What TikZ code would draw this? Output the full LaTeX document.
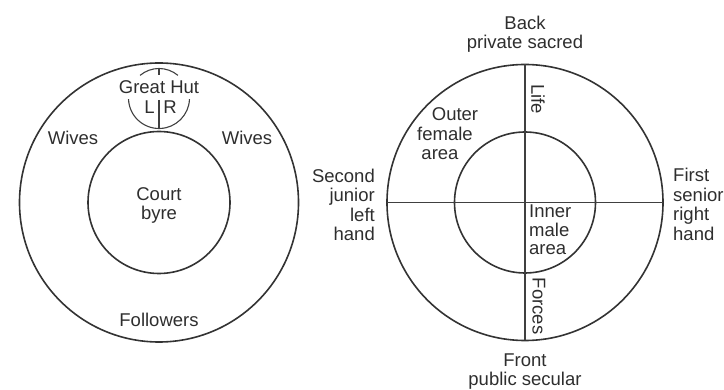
\documentclass[tikz,border=0pt]{standalone}
\usepackage{fontspec}
\setmainfont{Liberation Sans}
\begin{document}
\begin{tikzpicture}[x=1pt,y=-1pt,
  ring/.style={draw=black!80,line width=1.6pt},
  thin/.style={draw=black!75,line width=1.1pt},
  lab/.style={inner sep=0pt,text=black!82,font=\fontsize{18.5}{20}\selectfont},
  labc/.style={lab,anchor=base},
  labr/.style={lab,anchor=base east},
  labl/.style={lab,anchor=base west}]
\useasboundingbox (0,0) rectangle (724,390);
% ---------- left diagram ----------
\coordinate (lc) at (159,202.5);
\coordinate (hut) at (159,98);
\draw[ring] (lc) circle[radius=139.5];
\draw[ring] (lc) circle[radius=71];
\draw[thin] (hut) ++(-50:29.5) arc[start angle=-50,end angle=-130,radius=29.5];
\draw[thin] (hut) ++(178:30.5) arc[start angle=178,end angle=2,radius=30.5];
\coordinate (ht1) at (159,68.5);
\coordinate (ht2) at (159,75);
\coordinate (hb1) at (159,100);
\coordinate (hb2) at (159,128);
\draw[thin] (ht1) -- (ht2);
\draw[thin] (hb1) -- (hb2);
\node[labc] (greathut) at (159,94) {Great Hut};
\node[labc] (hl) at (149.5,113.5) {L};
\node[labc] (hr) at (170,113.5) {R};
\node[labc] (wivesl) at (73,145) {Wives};
\node[labc] (wivesr) at (247,145) {Wives};
\node[labc] (court) at (159,201) {Court};
\node[labc] (byre) at (159,220) {byre};
\node[labc] (followers) at (159,327) {Followers};
% ---------- right diagram ----------
\coordinate (rc) at (525,202.5);
\draw[ring] (rc) circle[radius=138];
\draw[ring] (rc) circle[radius=70.5];
\coordinate (rw) at (387,202.5);
\coordinate (re) at (663,202.5);
\coordinate (rn) at (525,64.5);
\coordinate (rs) at (525,340.5);
\draw[thin] (rw) -- (re);
\draw[thin] (rn) -- (rs);
\node[labc] (back) at (525,29.5) {Back};
\node[labc] (private) at (525,49) {private sacred};
\node[labc] (front) at (525,367) {Front};
\node[labc] (public) at (525,386) {public secular};
\node[lab,rotate=-90] (life) at (538,99) {Life};
\node[lab,rotate=-90] (forces) at (539,306) {Forces};
\node[labc] (outer) at (455,121) {Outer};
\node[labc] (female) at (445,141) {female};
\node[labc] (area1) at (440,160) {area};
\node[labr] (second) at (375,183) {Second};
\node[labr] (junior) at (375,202) {junior};
\node[labr] (left) at (375,222) {left};
\node[labr] (hand1) at (375,241) {hand};
\node[labl] (first) at (673,182) {First};
\node[labl] (senior) at (673,202) {senior};
\node[labl] (right) at (673,221) {right};
\node[labl] (hand2) at (673,241) {hand};
\node[labl] (inner) at (529,218) {Inner};
\node[labl] (male) at (529,237) {male};
\node[labl] (area2) at (529,255) {area};
\end{tikzpicture}
\end{document}
